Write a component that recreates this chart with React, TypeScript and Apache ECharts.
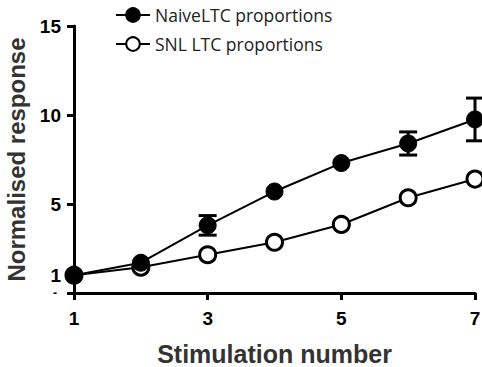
import React, { useEffect, useRef } from "react";
import * as echarts from "echarts";

const stimulation = [1, 2, 3, 4, 5, 6, 7];
const naiveValues = [1.0, 1.7, 3.8, 5.7, 7.3, 8.4, 9.75];
const naiveErrors = [0, 0.1, 0.55, 0.15, 0.15, 0.65, 1.2];
const snlValues = [1.0, 1.45, 2.15, 2.85, 3.85, 5.35, 6.4];
const xTicks = [1, 3, 5, 7];
const yTicks = [1, 5, 10, 15];
const yZeroTick = [0];

export default function App() {
  const ref = useRef<HTMLDivElement>(null);
  useEffect(() => {
    if (!ref.current) return;
    const chart = echarts.init(ref.current, undefined, { renderer: "svg" });
    const errData = stimulation
      .map((x, i) => [x, naiveValues[i] - naiveErrors[i], naiveValues[i] + naiveErrors[i]])
      .filter((_, i) => naiveErrors[i] >= 0.3);
    chart.setOption({
      animation: false,
      backgroundColor: "#ffffff",
      grid: { left: 74, right: 7, top: 26, bottom: 74, containLabel: false, outerBoundsMode: "none" },
      legend: {
        orient: "vertical",
        left: 110,
        top: 1,
        itemWidth: 34,
        itemHeight: 17,
        itemGap: 11,
        data: ["NaiveLTC proportions", "SNL LTC proportions"],
        textStyle: { fontFamily: "Open Sans", fontSize: 17.5, color: "#222", padding: [15, 0, 0, 0] },
      },
      xAxis: {
        type: "value",
        min: 1,
        max: 7,
        name: "Stimulation number",
        nameLocation: "middle",
        nameGap: 48,
        nameTextStyle: { fontFamily: "Liberation Sans", fontWeight: "bold", fontSize: 25, color: "#333" },
        axisLine: { onZero: false, lineStyle: { color: "#000", width: 3 } },
        axisTick: { customValues: xTicks, length: 7, lineStyle: { color: "#000", width: 3 } },
        axisLabel: {
          customValues: xTicks,
          fontFamily: "Liberation Sans",
          fontWeight: "bold",
          fontSize: 19,
          color: "#000",
          margin: 16,
        },
        splitLine: { show: false },
      },
      yAxis: [
        {
          type: "value",
          min: 0,
          max: 15,
          name: "Normalised response",
          nameLocation: "middle",
          nameGap: 42,
          nameTextStyle: { fontFamily: "Liberation Sans", fontWeight: "bold", fontSize: 24, color: "#333" },
          axisLine: { show: true, onZero: false, lineStyle: { color: "#000", width: 3 } },
          axisTick: { customValues: [0, ...yTicks], length: 7, lineStyle: { color: "#000", width: 3 } },
          axisLabel: {
            customValues: yTicks,
            fontFamily: "Liberation Sans",
            fontWeight: "bold",
            fontSize: 19,
            color: "#000",
            margin: 13,
          },
          splitLine: { show: false },
        },
        {
          type: "value",
          position: "left",
          min: 0,
          max: 15,
          axisLine: { show: false, onZero: false },
          axisTick: { show: false },
          axisLabel: {
            customValues: yZeroTick,
            showMinLabel: true,
            formatter: () => "-",
            fontFamily: "Liberation Sans",
            fontWeight: "bold",
            fontSize: 12,
            color: "#000",
            margin: 17,
          },
          splitLine: { show: false },
        },
      ],
      series: [
        {
          name: "SNL LTC proportions",
          type: "line",
          data: stimulation.map((x, i) => [x, snlValues[i]]),
          symbol: "circle",
          symbolSize: 16,
          lineStyle: { color: "#000", width: 2 },
          itemStyle: { color: "#fff", borderColor: "#000", borderWidth: 3 },
          z: 3,
        },
        {
          name: "NaiveLTC proportions",
          type: "line",
          data: stimulation.map((x, i) => [x, naiveValues[i]]),
          symbol: "circle",
          symbolSize: 17,
          lineStyle: { color: "#000", width: 2 },
          itemStyle: { color: "#000", borderColor: "#000", borderWidth: 1 },
          z: 4,
        },
        {
          type: "custom",
          name: "err",
          data: errData,
          z: 5,
          renderItem: (params: any, api: any) => {
            const x = api.value(0);
            const lo = api.coord([x, api.value(1)]);
            const hi = api.coord([x, api.value(2)]);
            const hw = 9;
            const style = { stroke: "#000", lineWidth: 3 };
            return {
              type: "group",
              children: [
                { type: "line", shape: { x1: lo[0], y1: lo[1], x2: hi[0], y2: hi[1] }, style },
                { type: "line", shape: { x1: lo[0] - hw, y1: lo[1], x2: lo[0] + hw, y2: lo[1] }, style },
                { type: "line", shape: { x1: hi[0] - hw, y1: hi[1], x2: hi[0] + hw, y2: hi[1] }, style },
              ],
            };
          },
        },
      ],
    });
    return () => chart.dispose();
  }, []);
  return <div ref={ref} style={{ width: 482, height: 367, position: "absolute", left: 0, top: 0 }} />;
}
